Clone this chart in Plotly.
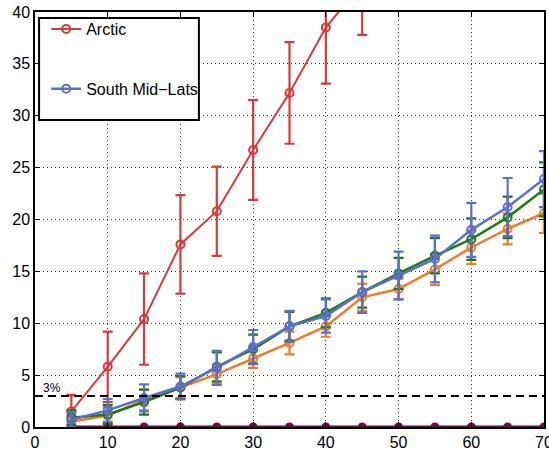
import plotly.graph_objects as go

# ---- data ----
x_vals = [5, 10, 15, 20, 25, 30, 35, 40, 45, 50, 55, 60, 65, 70]

arctic_x = [5, 10, 15, 20, 25, 30, 35, 40, 45]
arctic = [1.5, 5.8, 10.4, 17.6, 20.8, 26.7, 32.2, 38.5, 42.8]
arctic_err = [1.6, 3.4, 4.4, 4.75, 4.3, 4.8, 4.9, 5.4, 5.0]

orange = [0.5, 1.1, 2.6, 3.8, 5.1, 6.6, 8.1, 9.7, 12.5, 13.3, 15.2, 17.3, 19.1, 20.6]
orange_err = [0.6, 0.8, 1.0, 1.0, 0.9, 0.9, 1.1, 1.0, 1.3, 1.0, 1.5, 1.6, 1.5, 1.9]

green = [0.9, 1.2, 2.4, 3.8, 5.8, 7.5, 9.7, 11.0, 13.0, 14.8, 16.5, 18.1, 20.2, 22.9]
green_err = [0.7, 0.9, 1.2, 1.1, 1.4, 1.4, 1.4, 1.4, 1.5, 1.5, 1.7, 2.0, 2.0, 2.6]

south_mid = [0.7, 1.6, 2.8, 3.9, 5.7, 7.7, 9.7, 10.7, 13.0, 14.6, 16.2, 19.0, 21.2, 23.9]
south_mid_err = [0.7, 1.1, 1.3, 1.25, 1.65, 1.65, 1.5, 1.6, 2.0, 2.3, 2.25, 2.6, 2.8, 2.7]

zero_series = [0, 0, 0, 0, 0, 0, 0, 0, 0, 0, 0, 0, 0, 0]

threshold = 3
threshold_label = "3%"

x_ticks = [0, 10, 20, 30, 40, 50, 60, 70]
y_ticks = [0, 5, 10, 15, 20, 25, 30, 35, 40]

RED = "#d63a3a"
ORANGE = "#f07a2a"
GREEN = "#1f7a12"
BLUE = "#5b6fd0"
MAROON = "#6e0d3d"
FONT = "Liberation Sans, Arial, sans-serif"

fig = go.Figure()

def series(xs, ys, errs, color, name, show, group, lw=2.5):
    fig.add_trace(go.Scatter(
        x=xs, y=ys, name=name, showlegend=show, legendgroup=group,
        mode="lines+markers",
        line=dict(color=color, width=lw),
        marker=dict(symbol="circle-open", size=8, color=color, line=dict(width=2, color=color)),
        error_y=dict(type="data", array=errs, visible=True, color=color, thickness=2.2, width=5),
    ))

fig.add_trace(go.Scatter(
    x=x_vals, y=zero_series, mode="lines+markers", showlegend=False,
    line=dict(color=MAROON, width=3),
    marker=dict(symbol="circle", size=9, color=MAROON),
))
series(arctic_x, arctic, arctic_err, RED, "Arctic", True, "g1", lw=2)
series(x_vals, orange, orange_err, ORANGE, "orange", False, "g3")
series(x_vals, green, green_err, GREEN, "green", False, "g4")
series(x_vals, south_mid, south_mid_err, BLUE, "South Mid\u2212Lats", True, "g2")

# threshold dashed line
fig.add_shape(type="line", xref="paper", x0=0, x1=1, yref="y", y0=threshold, y1=threshold,
              line=dict(color="black", width=2, dash="8px,5px"), layer="above")
fig.add_annotation(x=2.3, y=threshold, yshift=8, text=threshold_label, showarrow=False,
                   font=dict(family=FONT, size=12, color="black"))

# legend box
fig.add_shape(type="rect", xref="paper", yref="paper", x0=0.008, x1=0.322, y0=0.74, y1=0.9855,
              line=dict(color="black", width=2), fillcolor="white", layer="above")

axis_common = dict(
    showline=True, linecolor="black", linewidth=1.5, mirror="ticks",
    ticks="inside", ticklen=5, tickwidth=1, tickcolor="black",
    showgrid=True, gridcolor="#333333", gridwidth=1, griddash="1px,3px",
    zeroline=False, tickfont=dict(family=FONT, size=16, color="black"),
    ticklabeloverflow="allow", automargin=False,
)

fig.update_layout(
    width=549, height=451,
    margin=dict(l=35, r=5, t=12, b=24),
    paper_bgcolor="white", plot_bgcolor="white",
    font=dict(family=FONT, size=16, color="black"),
    xaxis=dict(range=[0, 70], tickvals=x_ticks, **axis_common),
    yaxis=dict(range=[0, 40], tickvals=y_ticks, **axis_common),
    legend=dict(x=0.022, y=1.0, xanchor="left", yanchor="top",
                bgcolor="rgba(0,0,0,0)", borderwidth=0,
                tracegroupgap=36, font=dict(family=FONT, size=16, color="black")),
)

fig.write_html("out.html")
